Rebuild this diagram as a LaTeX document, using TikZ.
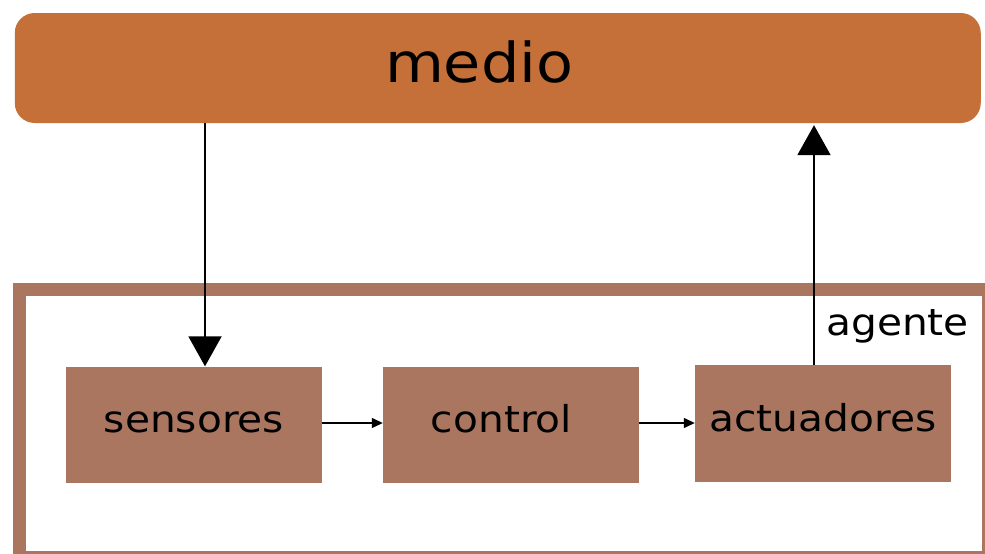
\documentclass[tikz,border=0pt]{standalone}
\usepackage{fontspec}
\setmainfont{DejaVu Sans}
\newfontfamily\widefont[FakeStretch=1.1]{DejaVu Sans}
\usetikzlibrary{arrows.meta,calc}
\definecolor{medioorange}{RGB}{196,112,56}
\definecolor{agentbrown}{RGB}{170,118,96}
\begin{document}
\begin{tikzpicture}[x=1pt,y=-1pt,
  blockbox/.style={rectangle, fill=agentbrown, inner sep=0pt,
    minimum width=256pt, minimum height=116pt,
    text height=30pt, text depth=15pt,
    font=\widefont\fontsize{37}{44}\selectfont},
  envbox/.style={rectangle, rounded corners=20pt, fill=medioorange, inner sep=0pt,
    minimum width=966pt, minimum height=110pt,
    text height=40pt, text depth=12pt,
    font=\widefont\fontsize{55}{64}\selectfont},
  bigflow/.style={line width=2pt, -{Triangle[width=33pt,length=30pt]}},
  smallflow/.style={line width=1.3pt, -{Triangle[width=10pt,length=11pt]}}
]
\useasboundingbox (0,0) rectangle (985,554);
\fill[white] (0,0) rectangle (985,554);

% agent frame, running past the right and bottom edges
\begin{scope}
  \clip (0,0) rectangle (985,554);
  \node[draw=agentbrown, line width=13pt, rectangle, inner sep=0pt,
        minimum width=969.5pt, minimum height=268pt] (agent) at (503.75,423.5) {};
\end{scope}

% environment
\node[envbox] (medio) at (497.75,68) {medio\rule{37pt}{0pt}};

% agent components
\node[blockbox] (sensores) at (194,424.5) {sensores};
\node[blockbox] (control) at (511,425) {control\rule{19pt}{0pt}};
\node[blockbox, minimum height=117pt] (actuadores) at (823,423.5) {actuadores};

\node[anchor=base west, inner sep=0pt, font=\widefont\fontsize{37}{44}\selectfont]
  (agentlabel) at (826,335) {agente};

% perception and action
\coordinate (sensin) at ([xshift=11pt]sensores.north);
\coordinate (actout) at ([xshift=-9pt]actuadores.north);
\draw[bigflow] (medio.south -| sensin) -- (sensin);
\draw[bigflow] (actout) -- ([yshift=-2pt]actout |- medio.south);

% internal flow
\draw[smallflow] (sensores.east |- 0,423) -- (control.west |- 0,423);
\draw[smallflow] (control.east |- 0,423) -- (actuadores.west |- 0,423);
\end{tikzpicture}
\end{document}
